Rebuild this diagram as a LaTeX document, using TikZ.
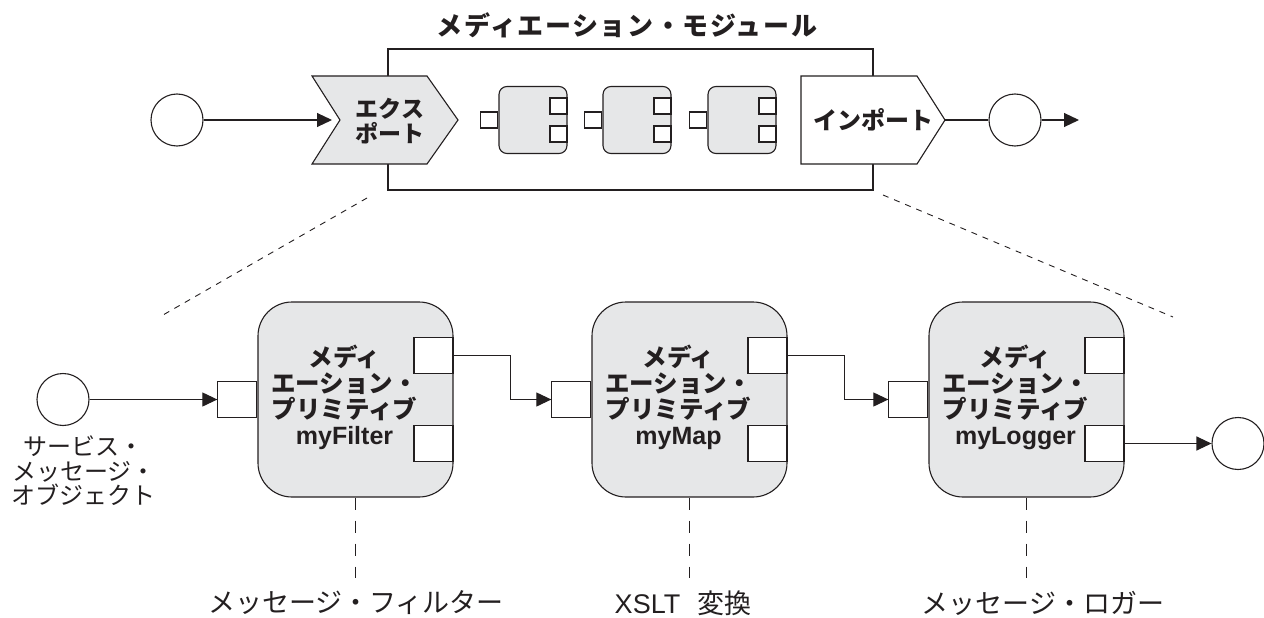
\documentclass[tikz,border=0pt]{standalone}
\usepackage{fontspec}
\setmainfont{Noto Sans CJK JP}
\newfontfamily\latfont{Liberation Sans}
\usetikzlibrary{arrows.meta,calc}
\definecolor{ink}{HTML}{231F20}
\definecolor{boxgray}{HTML}{E6E7E8}

\tikzset{
  prim/.style={draw, fill=boxgray, rounded corners=34pt, minimum width=195pt,
    minimum height=195pt, inner sep=0pt},
  port/.style={draw, fill=white, minimum width=39pt, minimum height=36pt, inner sep=0pt},
  mini/.style={draw, fill=boxgray, rounded corners=8pt, minimum width=68pt,
    minimum height=67pt, inner sep=0pt},
  miniport/.style={draw, fill=white, minimum width=17pt, minimum height=16pt, inner sep=0pt},
  endpt/.style={draw, circle, fill=white, minimum size=52pt, inner sep=0pt},
  flow/.style={-{Triangle[length=15pt,width=14pt]}},
  zoomline/.style={dash pattern=on 6pt off 6pt, line width=0.9pt},
  tie/.style={dash pattern=on 12pt off 11pt, line width=1.8pt},
  titletext/.style={inner sep=0pt,
    font=\fontsize{26}{28}\selectfont\bfseries\addfontfeature{LetterSpace=6}},
  shapetext/.style={inner sep=0pt, align=center,
    font=\fontsize{23}{24.5}\selectfont\bfseries},
  primtext/.style={inner sep=0pt, align=center,
    font=\fontsize{24.5}{26}\selectfont\bfseries},
  plaintext/.style={inner sep=0pt, align=center,
    font=\fontsize{24}{24.5}\selectfont},
  labeltext/.style={inner sep=0pt,
    font=\fontsize{27}{28}\selectfont},
}
\newcommand\primname[1]{{\latfont\bfseries\fontsize{25}{26}\selectfont #1}}

\begin{document}
\begin{tikzpicture}[x=1pt, y=-1pt, line width=1.1pt, color=ink]
\useasboundingbox (0,0) rectangle (1264,618);

% ---- mediation module (top) ----
\node[titletext] (title) at (627,25) {メディエーション・モジュール};
\node[draw, minimum width=485pt, minimum height=141pt, inner sep=0pt] (module) at (630.5,119.5) {};

% mini primitives inside the module
\foreach \n/\cx in {1/533, 2/637, 3/742} {
  \node[mini] (m\n) at (\cx,120) {};
  \node[miniport, anchor=east] (m\n i) at (m\n.west) {};
  \node[miniport, anchor=east] (m\n a) at ($(m\n.east)+(0,-14)$) {};
  \node[miniport, anchor=east] (m\n b) at ($(m\n.east)+(0,14)$) {};
}

% export and import shapes
\draw[fill=boxgray] (312,76) -- (427,76) -- (458,120) -- (427,164) -- (312,164) -- (340,120) -- cycle;
\coordinate (exnotch) at (340,120);
\node[shapetext] (extxt) at (390,121) {エクス\\ポート};

\draw[fill=white] (801,76) -- (917,76) -- (945,120) -- (917,164) -- (801,164) -- cycle;
\coordinate (imtip) at (945,120);
\node[shapetext, font=\fontsize{24}{24.5}\selectfont\bfseries] (imtxt) at (873,120) {インポート};

% module end points
\node[endpt] (in0) at (177,120) {};
\node[endpt] (out0) at (1015,120) {};
\coordinate (outtip) at (1079,120);
\draw[flow, shorten >=8pt] (in0) -- (exnotch);
\draw (imtip) -- (out0);
\draw[flow] (out0) -- (outtip);

% zoom lines
\coordinate (zl0) at (367,198);
\coordinate (zl1) at (163,315);
\coordinate (zr0) at (883,195);
\coordinate (zr1) at (1173,317);
\draw[zoomline] (zl0) -- (zl1);
\draw[zoomline] (zr0) -- (zr1);

% ---- mediation primitives (bottom) ----
\foreach \n/\cx in {1/355.5, 2/689.5, 3/1026.5} {
  \node[prim] (p\n) at (\cx,399.5) {};
  \node[port, anchor=east] (p\n i) at (p\n.west) {};
  \node[port, anchor=east] (p\n a) at ($(p\n.east)+(0,-44)$) {};
  \node[port, anchor=east] (p\n b) at ($(p\n.east)+(0,44)$) {};
}
\node[primtext] (t1) at ($(p1)+(-11,-2)$) {メディ\\エーション・\\プリミティブ\\\primname{myFilter}};
\node[primtext] (t2) at ($(p2)+(-11,-2)$) {メディ\\エーション・\\プリミティブ\\\primname{myMap}};
\node[primtext] (t3) at ($(p3)+(-11,-2)$) {メディ\\エーション・\\プリミティブ\\\primname{myLogger}};

% message flow
\node[endpt] (in1) at (63,399.5) {};
\node[plaintext] (in1lbl) at (84,471) {サービス・\\メッセージ・\\オブジェクト};
\node[endpt] (out1) at (1238,443.5) {};
\draw[flow] (in1) -- (p1i.west);
\draw[flow] (p1a.east) -- ++(57,0) |- (p2i.west);
\draw[flow] (p2a.east) -- ++(57,0) |- (p3i.west);
\draw[flow] (p3b.east) -- (out1);

% roles of the primitives
\coordinate (d1) at (355.5,578);
\coordinate (d2) at (689.5,578);
\coordinate (d3) at (1026.5,578);
\draw[tie] (p1.south) -- (d1);
\draw[tie] (p2.south) -- (d2);
\draw[tie] (p3.south) -- (d3);
\node[labeltext] (l1) at (356,603) {メッセージ・フィルター};
\node[labeltext] (l2) at (683,603) {{\latfont XSLT}\hspace{17pt}変換};
\node[labeltext] (l3) at (1043,603) {メッセージ・ロガー};
\end{tikzpicture}
\end{document}
